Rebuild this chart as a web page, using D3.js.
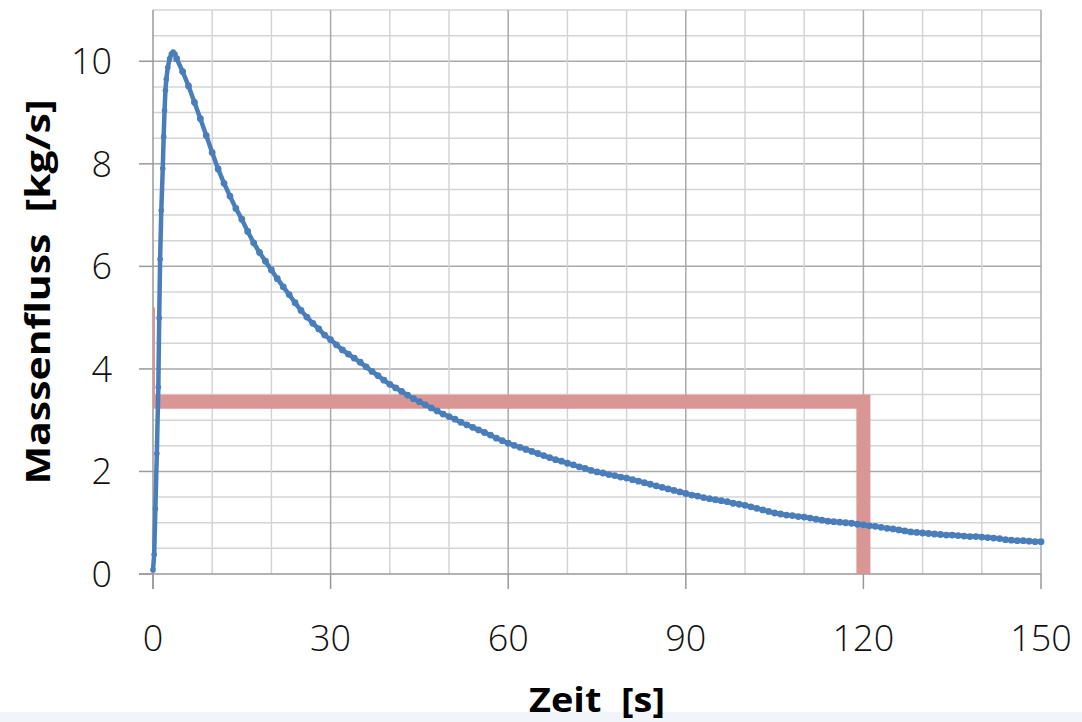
<html>
<head>
<meta charset="utf-8">
<title>Massenfluss</title>
<script src="https://d3js.org/d3.v7.min.js"></script>
<style>
  body { margin: 0; background: #fff; }
  .tick-label { font-family: "Open Sans", "Noto Sans", sans-serif; font-weight: 300; fill: #111; }
  .axis-title { font-family: "Open Sans", "Noto Sans", sans-serif; font-weight: 700; fill: #000; white-space: pre; }
</style>
</head>
<body>
<svg width="1082" height="722"></svg>
<script>
// tick labels
var xTicks = [0, 30, 60, 90, 120, 150];
var yTicks = [0, 2, 4, 6, 8, 10];

var riseTime = [0, 0.2, 0.4, 0.65, 0.9, 1.05, 1.2, 1.4, 1.65, 1.8, 1.95, 2.1, 2.25, 2.5, 2.8, 3.1, 3.4, 3.7];
var riseFlow = [0.08, 0.38, 1.27, 2.35, 3.64, 4.99, 6.14, 7.09, 7.91, 8.53, 9.04, 9.43, 9.65, 9.88, 10.05, 10.14, 10.18, 10.14];

// decay phase, one reading per second from t = 4 s to t = 150 s
var decayFlow = [
  10.05, 9.80, 9.52, 9.20, 8.88, 8.55, 8.22, 7.90, 7.62, 7.37,
  7.13, 6.92, 6.68, 6.46, 6.27, 6.10, 5.93, 5.76, 5.60, 5.45,
  5.29, 5.14, 5.01, 4.89, 4.78, 4.66, 4.57, 4.47, 4.37, 4.29,
  4.21, 4.13, 4.04, 3.95, 3.87, 3.78, 3.70, 3.63, 3.56, 3.49,
  3.42, 3.36, 3.30, 3.24, 3.18, 3.12, 3.07, 3.02, 2.96, 2.91,
  2.86, 2.81, 2.76, 2.71, 2.65, 2.60, 2.55, 2.51, 2.47, 2.43,
  2.39, 2.35, 2.31, 2.27, 2.23, 2.20, 2.16, 2.13, 2.09, 2.06,
  2.02, 1.99, 1.97, 1.94, 1.92, 1.89, 1.87, 1.84, 1.81, 1.78,
  1.75, 1.72, 1.69, 1.66, 1.63, 1.60, 1.57, 1.54, 1.52, 1.49,
  1.47, 1.45, 1.43, 1.41, 1.38, 1.36, 1.34, 1.31, 1.28, 1.25,
  1.22, 1.19, 1.17, 1.15, 1.14, 1.12, 1.11, 1.09, 1.07, 1.05,
  1.03, 1.02, 1.01, 1.00, 0.99, 0.97, 0.96, 0.94, 0.93, 0.91,
  0.89, 0.88, 0.86, 0.84, 0.82, 0.81, 0.80, 0.79, 0.78, 0.77,
  0.76, 0.76, 0.75, 0.74, 0.73, 0.73, 0.72, 0.71, 0.70, 0.69,
  0.67, 0.66, 0.65, 0.65, 0.64, 0.63, 0.63
];
var decayTime = d3.range(4, 151);

// red marker box: average flow until 120 s
var boxFlow = 3.36;
var boxTime = 120;

var data = riseTime.map(function(t, i) { return {t: t, v: riseFlow[i]}; })
  .concat(decayTime.map(function(t, i) { return {t: t, v: decayFlow[i]}; }));

var svg = d3.select("svg");
var pLeft = 153, pRight = 1041, pTop = 10, pBottom = 574;

var x = d3.scaleLinear().domain([0, 150]).range([pLeft, pRight]);
var y = d3.scaleLinear().domain([0, 11]).range([pBottom, pTop]);

// bottom strip
svg.append("rect").attr("x", 0).attr("y", 712).attr("width", 1082).attr("height", 10).attr("fill", "#f1f4f8");

// grid
var g = svg.append("g");
g.selectAll(".hminor").data(d3.range(0.5, 11.01, 0.5)).enter().append("line")
  .attr("x1", pLeft).attr("x2", pRight)
  .attr("y1", function(d) { return y(d); }).attr("y2", function(d) { return y(d); })
  .attr("stroke", function(d) { return d % 2 == 0 ? "#a9a9a9" : "#d4d4d4"; })
  .attr("stroke-width", 1.5);
g.selectAll(".vminor").data(d3.range(10, 151, 10)).enter().append("line")
  .attr("y1", pTop).attr("y2", pBottom)
  .attr("x1", function(d) { return x(d); }).attr("x2", function(d) { return x(d); })
  .attr("stroke", function(d) { return d % 30 == 0 ? "#a9a9a9" : "#d4d4d4"; })
  .attr("stroke-width", 1.5);

// axes lines and ticks
g.append("line").attr("x1", pLeft).attr("x2", pLeft).attr("y1", pTop).attr("y2", pBottom + 15).attr("stroke", "#999").attr("stroke-width", 1.5);
g.append("line").attr("x1", pLeft - 14).attr("x2", pRight).attr("y1", pBottom).attr("y2", pBottom).attr("stroke", "#999").attr("stroke-width", 1.5);
g.selectAll(".yt").data(yTicks).enter().append("line")
  .attr("x1", pLeft - 14).attr("x2", pLeft)
  .attr("y1", function(d) { return y(d); }).attr("y2", function(d) { return y(d); })
  .attr("stroke", "#999").attr("stroke-width", 1.5);
g.selectAll(".xt").data(xTicks).enter().append("line")
  .attr("x1", function(d) { return x(d); }).attr("x2", function(d) { return x(d); })
  .attr("y1", pBottom).attr("y2", pBottom + 15)
  .attr("stroke", "#999").attr("stroke-width", 1.5);

// tick labels
svg.selectAll(".ylab").data(yTicks).enter().append("text")
  .attr("class", "tick-label")
  .attr("x", 112).attr("y", function(d) { return y(d) + 13; })
  .attr("text-anchor", "end").style("font-size", "36px")
  .text(function(d) { return d; });
svg.selectAll(".xlab").data(xTicks).enter().append("text")
  .attr("class", "tick-label")
  .attr("x", function(d) { return x(d); }).attr("y", 651)
  .attr("text-anchor", "middle").style("font-size", "36px")
  .text(function(d) { return d; });

// axis titles
svg.append("text").attr("class", "axis-title")
  .attr("transform", "translate(50,292) rotate(-90)")
  .attr("text-anchor", "middle").style("font-size", "34px")
  .attr("textLength", 385).attr("lengthAdjust", "spacingAndGlyphs")
  .text("Massenfluss\u00a0 [kg/s]");
svg.append("text").attr("class", "axis-title")
  .attr("x", 597).attr("y", 712)
  .attr("text-anchor", "middle").style("font-size", "34px")
  .attr("textLength", 136).attr("lengthAdjust", "spacingAndGlyphs")
  .text("Zeit\u00a0 [s]");

// red box
var pink = "#d99694";
svg.append("path")
  .attr("d", "M" + x(0) + "," + y(boxFlow) + "H" + x(boxTime) + "V" + y(0))
  .attr("fill", "none").attr("stroke", pink).attr("stroke-width", 14)
  .attr("stroke-linejoin", "miter");
svg.append("line")
  .attr("x1", x(0) + 1).attr("x2", x(0) + 1).attr("y1", y(5.2)).attr("y2", y(boxFlow))
  .attr("stroke", pink).attr("stroke-width", 2);

// flow curve
var blue = "#4a7ebb";
svg.append("path").datum(data)
  .attr("d", d3.line().x(function(d) { return x(d.t); }).y(function(d) { return y(d.v); }))
  .attr("fill", "none").attr("stroke", blue)
  .attr("stroke-width", 4.5).attr("stroke-linejoin", "round").attr("stroke-linecap", "round");
svg.append("g").selectAll("circle").data(data).enter().append("circle")
  .attr("cx", function(d) { return x(d.t); })
  .attr("cy", function(d) { return y(d.v); })
  .attr("r", function(d) { return d.t < 4 ? 2.8 : 3.4; })
  .attr("fill", blue);
</script>
</body>
</html>
